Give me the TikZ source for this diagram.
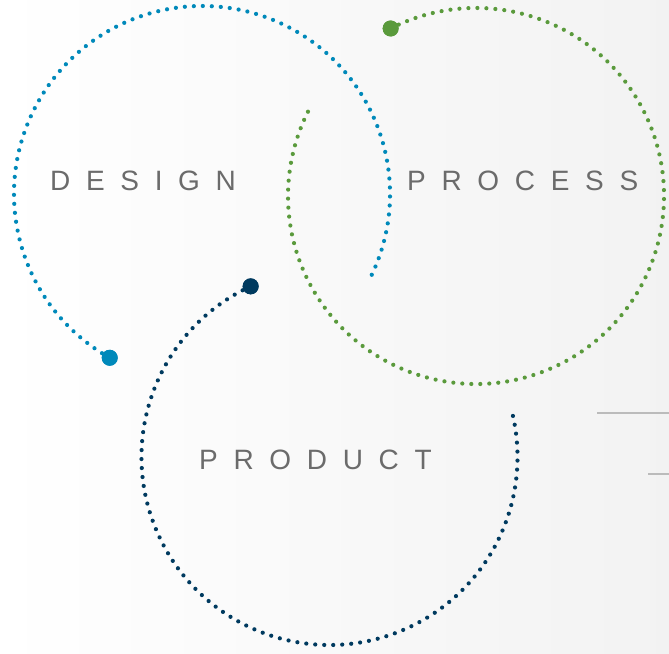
\documentclass[tikz,border=0pt]{standalone}
\usepackage{fontspec}
\usepackage{xcolor}
\usetikzlibrary{positioning}
\newfontfamily\labelfont[LetterSpace=56]{Liberation Sans}
\definecolor{designblue}{HTML}{0089BA}
\definecolor{processgreen}{HTML}{5A9A3C}
\definecolor{productnavy}{HTML}{003A5F}
\definecolor{textgray}{HTML}{6B6B6B}
\definecolor{rulegray}{HTML}{BBBBBB}
\tikzstyle{dotarc}=[line width=4.2pt,line cap=round,dash pattern=on 0pt off 9pt]
\tikzstyle{bigdot}=[circle,inner sep=0pt,minimum size=16pt]
\tikzstyle{word}=[anchor=base west,inner sep=0pt,text=textgray,font=\labelfont\fontsize{28}{28}\selectfont]
\tikzstyle{rule}=[line width=2pt,draw=rulegray]

\begin{document}
\begin{tikzpicture}[x=1pt,y=1pt]
	\shade[left color=white,right color=gray!10] (0,0) rectangle (669,653);
	\useasboundingbox (0,0) rectangle (669,653);
	
	\coordinate (designc) at (202,459);
	\coordinate (processc) at (476,457);
	\coordinate (productc) at (329.5,196);
	
	\node [bigdot, fill=designblue] (designdot) at ([shift={(240.6:188)}]designc) {};
	\node [bigdot, fill=processgreen] (processdot) at ([shift={(117:188)}]processc) {};
	\node [bigdot, fill=productnavy] (productdot) at ([shift={(114.8:188)}]productc) {};
	
	\draw[dotarc, draw=designblue] (designdot.center) arc[start angle=240.6, end angle=-27, radius=188];
	\draw[dotarc, draw=processgreen] (processdot.center) arc[start angle=117, end angle=-206.8, radius=188];
	\draw[dotarc, draw=productnavy] (productdot.center) arc[start angle=114.8, end angle=372.9, radius=188];
	
	% dots on top of their arcs
	\node [bigdot, fill=designblue] at (designdot) {};
	\node [bigdot, fill=processgreen] at (processdot) {};
	\node [bigdot, fill=productnavy] at (productdot) {};
	
	\node [word] (design) at (50,462) {DESIGN};
	\node [word] (process) at (407,462) {PROCESS};
	\node [word] (product) at (199,183) {PRODUCT};
	
	\coordinate (rulea) at (597,240);
	\coordinate (ruleb) at (648,179);
	\draw[rule] (rulea) -- (rulea -| 669,0);
	\draw[rule] (ruleb) -- (ruleb -| 669,0);
\end{tikzpicture}
\end{document}
